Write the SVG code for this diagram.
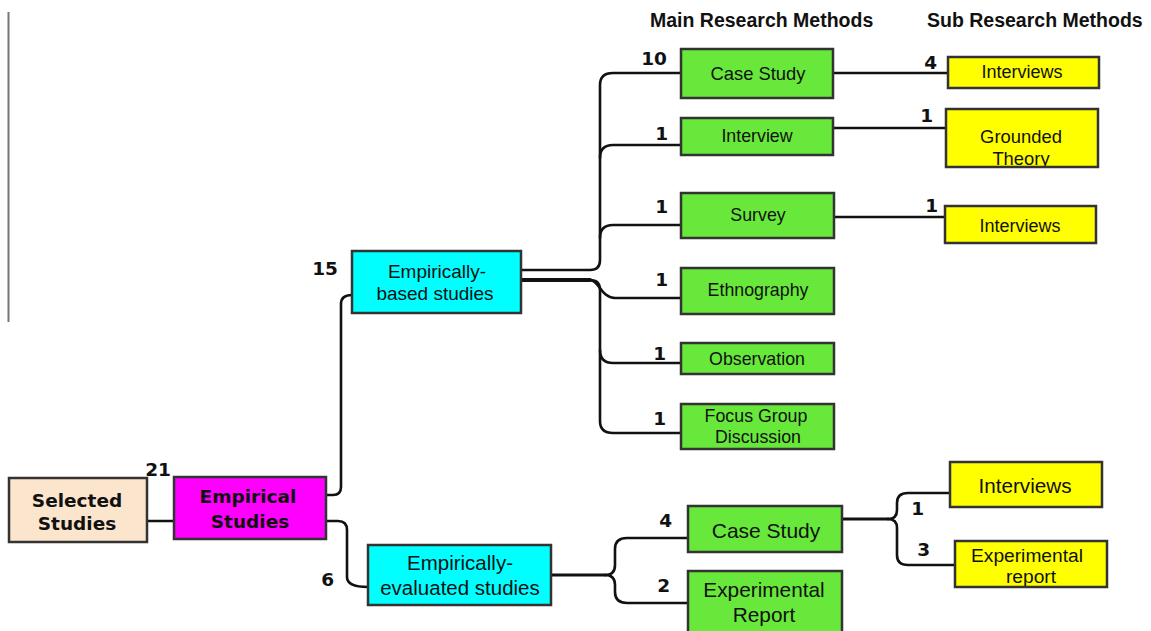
<svg xmlns="http://www.w3.org/2000/svg" width="1151" height="631" viewBox="0 0 1151 631">
<style>
.box{stroke:#333;stroke-width:2.5}
.peach{fill:#fce5cd}.mag{fill:#ff00ff}.cyan{fill:#00ffff}.green{fill:#67e83a}.yel{fill:#ffff00}
.t{font-family:"Liberation Sans",Arial,sans-serif;fill:#111;text-anchor:middle}
.tb{font-family:"DejaVu Sans",Verdana,sans-serif;font-weight:bold;fill:#111;text-anchor:middle}
.n{font-family:"DejaVu Sans",Verdana,sans-serif;font-weight:bold;font-size:18.5px;fill:#111;text-anchor:end}
.h{font-family:"Liberation Sans",Arial,sans-serif;font-weight:bold;font-size:19.5px;fill:#111}
.c{fill:none;stroke:#111;stroke-width:2.6;stroke-linecap:round;stroke-linejoin:round}
</style>
<defs>
<clipPath id="cg"><rect x="946" y="109" width="152" height="57"/></clipPath>
<clipPath id="ce"><rect x="955" y="541" width="152" height="45"/></clipPath>
</defs>
<rect width="1151" height="631" fill="#fff"/>
<line x1="8.5" y1="12" x2="8.5" y2="322" stroke="#777" stroke-width="2"/>
<text class="h" x="650" y="27">Main Research Methods</text>
<text class="h" x="927" y="27">Sub Research Methods</text>

<g id="connectors">
<path class="c" d="M147 521 H174"/>
<path class="c" d="M326 495 H333 Q341 495 341 487 V304 Q341 295 352 295"/>
<path class="c" d="M326 521 H338 Q347 521 347 530 V577 Q347 587 368 587"/>
<path class="c" d="M521 270 H590 Q600 270 600 260 V85 Q600 73 613 73 H681"/>
<path class="c" d="M600 158 Q600 145 613 145 H681"/>
<path class="c" d="M600 238 Q600 225 613 225 H681"/>
<path class="c" style="stroke-width:3.8" d="M521 280 H590"/>
<path class="c" d="M590 280 Q600 280 600 290 V421 Q600 433 613 433 H681"/>
<path class="c" d="M590 280 C599 280 601 298 615 298 H681"/>
<path class="c" d="M600 350 Q600 363 613 363 H681"/>
<path class="c" d="M833 73 H948"/>
<path class="c" d="M833 128 H946"/>
<path class="c" d="M834 217 H945"/>
<path class="c" style="stroke-width:3.2" d="M551 575 H605"/>
<path class="c" d="M605 575 Q615 575 615 565 V549 Q615 538 627 538 H688"/>
<path class="c" d="M605 575 Q615 575 615 585 V592 Q615 603 627 603 H688"/>
<path class="c" style="stroke-width:3.2" d="M842 519 H888"/>
<path class="c" d="M888 519 Q897 519 897 510 V503 Q897 493 908 493 H950"/>
<path class="c" d="M888 519 Q897 519 897 528 V555 Q897 565 908 565 H955"/>
</g>

<g id="selected">
<rect class="box peach" x="9" y="478" width="138" height="64"/>
<text class="tb" x="77" y="507" font-size="18.5px">Selected</text>
<text class="tb" x="77" y="530" font-size="18.5px">Studies</text>
</g>
<text class="n" x="171" y="476">21</text>
<g id="empirical">
<rect class="box mag" x="174" y="477" width="152" height="62"/>
<text class="tb" x="248" y="503" font-size="18.5px">Empirical</text>
<text class="tb" x="250" y="528" font-size="18.5px">Studies</text>
</g>
<text class="n" x="338" y="275">15</text>
<g id="emp-based">
<rect class="box cyan" x="352" y="251" width="169" height="62"/>
<text class="t" x="437" y="278" font-size="19px">Empirically-</text>
<text class="t" x="435" y="299.5" font-size="19px">based studies</text>
</g>
<text class="n" x="334" y="586">6</text>
<g id="emp-eval">
<rect class="box cyan" x="368" y="545" width="183" height="60"/>
<text class="t" x="460" y="570" font-size="20.5px">Empirically-</text>
<text class="t" x="460" y="595" font-size="20.5px">evaluated studies</text>
</g>

<text class="n" x="667" y="65">10</text>
<g id="m-case">
<rect class="box green" x="681" y="49" width="152" height="49"/>
<text class="t" x="758" y="80" font-size="18.4px">Case Study</text>
</g>
<text class="n" x="668" y="140">1</text>
<g id="m-interview">
<rect class="box green" x="681" y="118" width="152" height="37"/>
<text class="t" x="757" y="142" font-size="17.8px">Interview</text>
</g>
<text class="n" x="668" y="213">1</text>
<g id="m-survey">
<rect class="box green" x="681" y="193" width="153" height="45"/>
<text class="t" x="758" y="221" font-size="17.8px">Survey</text>
</g>
<text class="n" x="668" y="286">1</text>
<g id="m-ethno">
<rect class="box green" x="681" y="268" width="153" height="46"/>
<text class="t" x="758" y="296" font-size="17.8px">Ethnography</text>
</g>
<text class="n" x="666" y="360">1</text>
<g id="m-obs">
<rect class="box green" x="681" y="343" width="153" height="31"/>
<text class="t" x="757" y="365" font-size="17.8px">Observation</text>
</g>
<text class="n" x="666" y="425">1</text>
<g id="m-focus">
<rect class="box green" x="681" y="404" width="153" height="45"/>
<text class="t" x="756" y="422" font-size="17.8px">Focus Group</text>
<text class="t" x="758" y="443" font-size="17.8px">Discussion</text>
</g>

<text class="n" x="672" y="527">4</text>
<g id="m-case2">
<rect class="box green" x="688" y="506" width="154" height="46"/>
<text class="t" x="766" y="538" font-size="21px">Case Study</text>
</g>
<text class="n" x="670" y="592">2</text>
<g id="m-exp">
<rect class="box green" x="688" y="571" width="154" height="66"/>
<text class="t" x="764" y="597" font-size="20.8px">Experimental</text>
<text class="t" x="764" y="622" font-size="20.8px">Report</text>
</g>

<text class="n" x="937" y="69">4</text>
<g id="s-interviews1">
<rect class="box yel" x="948" y="57" width="151" height="31"/>
<text class="t" x="1022" y="78" font-size="18px">Interviews</text>
</g>
<text class="n" x="933" y="122">1</text>
<g id="s-grounded">
<rect class="yel" x="946" y="109" width="152" height="58"/>
<g clip-path="url(#cg)">
<text class="t" x="1021" y="143" font-size="18.4px">Grounded</text>
<text class="t" x="1021" y="165" font-size="18.4px">Theory</text>
</g>
<rect class="box" fill="none" x="946" y="109" width="152" height="58"/>
</g>
<text class="n" x="938" y="212">1</text>
<g id="s-interviews2">
<rect class="box yel" x="945" y="206" width="151" height="37"/>
<text class="t" x="1020" y="232" font-size="18px">Interviews</text>
</g>
<text class="n" x="924" y="515">1</text>
<g id="s-interviews3">
<rect class="box yel" x="950" y="462" width="152" height="45"/>
<text class="t" x="1025" y="493" font-size="20.7px">Interviews</text>
</g>
<text class="n" x="930" y="556">3</text>
<g id="s-exp">
<rect class="yel" x="955" y="541" width="152" height="46"/>
<g clip-path="url(#ce)">
<text class="t" x="1027" y="562" font-size="19.2px">Experimental</text>
<text class="t" x="1031" y="583" font-size="19.2px">report</text>
</g>
<rect class="box" fill="none" x="955" y="541" width="152" height="46"/>
</g>
</svg>
